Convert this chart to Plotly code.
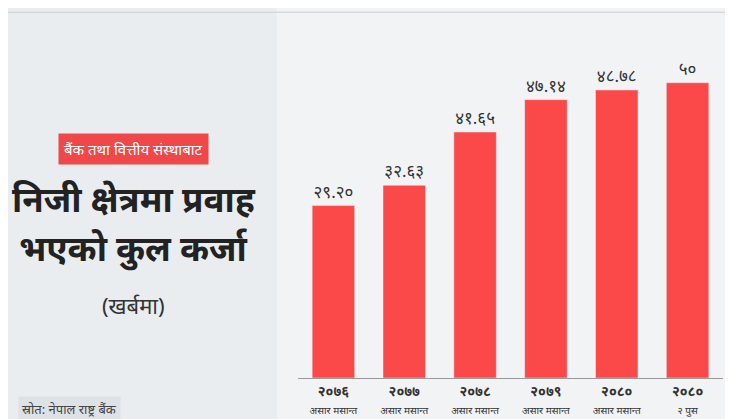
import plotly.graph_objects as go

years = ["२०७६", "२०७७", "२०७८", "२०७९", "२०८०", "२०८०"]
periods = ["असार मसान्त", "असार मसान्त", "असार मसान्त", "असार मसान्त", "असार मसान्त", "२ पुस"]
values = [29.20, 32.63, 41.65, 47.14, 48.78, 50]
value_labels = ["२९.२०", "३२.६३", "४१.६५", "४७.१४", "४८.७८", "५०"]

cats = [f"c{i}" for i in range(len(values))]
ticktext = [f"<b>{y}</b><br><span style='font-size:10px'>{p}</span>" for y, p in zip(years, periods)]

fig = go.Figure(go.Bar(
    x=cats, y=values, marker_color="#fb4848", text=value_labels,
    textposition="outside", textfont=dict(size=17, color="#333333"),
    cliponaxis=False, width=0.6,
))

fig.update_layout(
    width=733, height=419,
    margin=dict(l=290, r=18, t=60, b=49, autoexpand=False),
    paper_bgcolor="#f1f3f5", plot_bgcolor="rgba(0,0,0,0)",
    showlegend=False,
    font=dict(family="Noto Sans, DejaVu Sans", color="#333333"),
    xaxis=dict(tickvals=cats, ticktext=ticktext, tickfont=dict(size=14, color="#333333"),
               showline=True, linecolor="#999999", linewidth=1, showgrid=False, ticks="",
               automargin=False),
    yaxis=dict(range=[0, 52.5], visible=False, automargin=False),
    shapes=[
        dict(type="rect", xref="paper", yref="paper", x0=-1.0, x1=-0.05, y0=-0.2, y1=1.2,
             fillcolor="#e9edf0", line_width=0, layer="below"),
        dict(type="line", xref="paper", yref="paper", x0=-0.70, x1=1.05, y0=1.18, y1=1.18,
             line=dict(color="#cccccc", width=1)),
    ],
)

fig.add_annotation(xref="paper", yref="paper", x=-0.386, y=0.74, xanchor="center", yanchor="middle",
                   text="बैंक तथा वित्तीय संस्थाबाट", showarrow=False,
                   font=dict(size=15, color="white"), bgcolor="#f04848",
                   borderpad=5)
fig.add_annotation(xref="paper", yref="paper", x=-0.386, y=0.58, xanchor="center", yanchor="middle",
                   text="<b>निजी क्षेत्रमा प्रवाह</b>", showarrow=False,
                   font=dict(size=35, color="#222222"))
fig.add_annotation(xref="paper", yref="paper", x=-0.386, y=0.42, xanchor="center", yanchor="middle",
                   text="<b>भएको कुल कर्जा</b>", showarrow=False,
                   font=dict(size=35, color="#222222"))
fig.add_annotation(xref="paper", yref="paper", x=-0.386, y=0.235, xanchor="center", yanchor="middle",
                   text="(खर्बमा)", showarrow=False,
                   font=dict(size=22, color="#333333"))
fig.add_annotation(xref="paper", yref="paper", x=-0.66, y=-0.10, xanchor="left", yanchor="middle",
                   text="स्रोत: नेपाल राष्ट्र बैंक", showarrow=False,
                   font=dict(size=13, color="#444444"), bgcolor="#dde2e7", borderpad=3)

fig.write_html("out.html")
